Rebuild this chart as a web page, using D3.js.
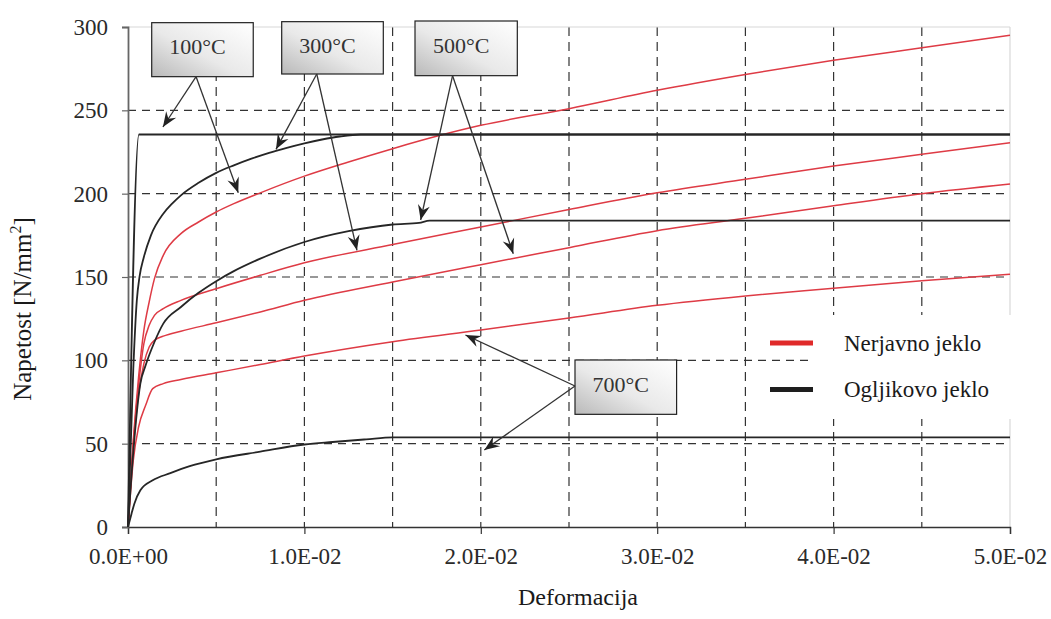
<!DOCTYPE html>
<html>
<head>
<meta charset="utf-8">
<script src="https://cdn.jsdelivr.net/npm/d3@7"></script>
<style>
  html, body { margin: 0; padding: 0; background: #fff; }
  svg { display: block; font-family: "Liberation Serif", "Times New Roman", serif; }
</style>
</head>
<body>
<svg id="chart" width="1051" height="619"></svg>
<script>
// Stress-strain curves: stainless steel (red) vs. carbon steel (black) at four temperatures.
// Each series is a list of [strain, stress (N/mm²)] pairs.

const stainless100 = [[0,0],[0.0003,52],[0.0006,90],[0.0009,118],[0.0012,135],[0.0015,149],[0.002,163],[0.003,176],[0.004,183],[0.005,189],[0.006,194],[0.0075,200.5],[0.01,210.5],[0.0125,219],[0.015,227],[0.0177,235],[0.02,241],[0.025,251],[0.03,262],[0.035,271.5],[0.04,280],[0.045,287.5],[0.05,295]];
const stainless300 = [[0,0],[0.0003,50],[0.0006,85],[0.0009,110],[0.0012,121],[0.0015,127],[0.002,131],[0.003,136],[0.005,143],[0.0075,151],[0.01,158.5],[0.015,169.5],[0.02,180],[0.025,190.5],[0.03,200.5],[0.035,208.6],[0.04,216.6],[0.045,223.6],[0.05,230.6]];
const stainless500 = [[0,0],[0.0003,48],[0.0006,80],[0.0009,98],[0.0012,108],[0.0015,112],[0.002,114.5],[0.003,117.5],[0.005,122.5],[0.0075,129],[0.01,136],[0.015,147],[0.02,157.4],[0.025,167.6],[0.03,177.8],[0.035,185.2],[0.04,192.8],[0.045,200],[0.05,205.8]];
const stainless700 = [[0,0],[0.0003,40],[0.0006,60],[0.001,73],[0.0014,83],[0.002,86],[0.003,88.5],[0.005,92.5],[0.0075,97.5],[0.01,102.6],[0.015,111.2],[0.02,118.2],[0.025,125.4],[0.03,133],[0.035,138.6],[0.04,143.2],[0.045,147.8],[0.05,151.6]];

const carbon100 = [[0,0],[0.00062,235.5],[0.05,235.5]];
const carbon300 = [[0,0],[0.0003,95],[0.0005,136],[0.00065,150],[0.0009,162],[0.0013,175],[0.002,188],[0.0025,194],[0.003,199],[0.004,206.5],[0.005,212.5],[0.006,217],[0.007,221],[0.008,224.5],[0.009,227.5],[0.01,230.2],[0.011,232.5],[0.012,234.3],[0.0132,235.5],[0.05,235.5]];
const carbon500 = [[0,0],[0.0003,45],[0.0007,86],[0.001,97],[0.0015,111],[0.002,122],[0.003,132],[0.004,140.5],[0.005,147.5],[0.006,153.5],[0.0075,161],[0.01,171],[0.0125,177.5],[0.015,181.5],[0.0165,182.5],[0.0171,183.8],[0.05,183.8]];
const carbon700 = [[0,0],[0.0002,8],[0.00036,14],[0.0007,22],[0.0014,28],[0.0024,32.3],[0.0035,36.5],[0.005,40.6],[0.0075,45.2],[0.01,49.5],[0.0116,51],[0.0135,52.6],[0.015,53.8],[0.05,53.8]];

const xTickValues = [0, 0.01, 0.02, 0.03, 0.04, 0.05];
const xTickLabels = ["0.0E+00", "1.0E-02", "2.0E-02", "3.0E-02", "4.0E-02", "5.0E-02"];
const yTickValues = [0, 50, 100, 150, 200, 250, 300];
const xGridValues = [0.005, 0.01, 0.015, 0.02, 0.025, 0.03, 0.035, 0.04, 0.045];
const yGridValues = [50, 100, 150, 200, 250];

const legendLabels = ["Nerjavno jeklo", "Ogljikovo jeklo"];
const temperatureLabels = ["100°C", "300°C", "500°C", "700°C"];

const RED = "#de3b45";
const BLACK = "#262626";

const svg = d3.select("#chart");
const x = d3.scaleLinear().domain([0, 0.05]).range([128, 1010]);
const y = d3.scaleLinear().domain([0, 300]).range([527, 27]);

// defs: box gradient and arrowhead
const defs = svg.append("defs");
const grad = defs.append("linearGradient").attr("id", "boxFill")
  .attr("x1", "0").attr("y1", "1").attr("x2", "1").attr("y2", "0");
grad.append("stop").attr("offset", "0").attr("stop-color", "#b9b9b9");
grad.append("stop").attr("offset", "0.45").attr("stop-color", "#e9e9e9");
grad.append("stop").attr("offset", "1").attr("stop-color", "#ffffff");

defs.append("marker").attr("id", "arrowHead")
  .attr("viewBox", "-16 -7 18 14")
  .attr("refX", 0).attr("refY", 0)
  .attr("markerWidth", 18).attr("markerHeight", 14)
  .attr("markerUnits", "userSpaceOnUse")
  .attr("orient", "auto")
  .append("path")
  .attr("d", "M0,0 L-15,-6 L-10,0 L-15,6 Z")
  .attr("fill", "#222");

// grid
const grid = svg.append("g");
grid.selectAll(".vg").data(xGridValues).join("line")
  .attr("x1", d => x(d)).attr("x2", d => x(d))
  .attr("y1", y(300)).attr("y2", y(0))
  .attr("stroke", "#333").attr("stroke-width", 1.2)
  .attr("stroke-dasharray", "9,6");
grid.selectAll(".hg").data(yGridValues).join("line")
  .attr("x1", x(0)).attr("x2", x(0.05))
  .attr("y1", d => y(d)).attr("y2", d => y(d))
  .attr("stroke", "#333").attr("stroke-width", 1.2)
  .attr("stroke-dasharray", "8,6");

// light frame on top and right
svg.append("line").attr("x1", x(0)).attr("x2", x(0.05)).attr("y1", y(300)).attr("y2", y(300))
  .attr("stroke", "#d8d8d8").attr("stroke-width", 1.2);
svg.append("line").attr("x1", x(0.05)).attr("x2", x(0.05)).attr("y1", y(300)).attr("y2", y(0))
  .attr("stroke", "#d8d8d8").attr("stroke-width", 1.2);

// legend background hides the grid behind the labels
svg.append("rect").attr("x", 812).attr("y", 315).attr("width", 205).attr("height", 104)
  .attr("fill", "#fff");

// axes
const xAxis = svg.append("g").attr("transform", `translate(0,${y(0)})`)
  .call(d3.axisBottom(x).tickValues(xTickValues)
    .tickFormat((d, i) => xTickLabels[i]).tickSize(7).tickPadding(14));
xAxis.attr("font-family", null);
xAxis.select(".domain").attr("stroke", "#333").attr("stroke-width", 1.4);
xAxis.selectAll(".tick line").attr("stroke", "#333").attr("stroke-width", 1.2);
xAxis.selectAll("text").attr("font-size", 23).attr("fill", "#2a2a2a");

const yAxis = svg.append("g").attr("transform", `translate(${x(0)},0)`)
  .call(d3.axisLeft(y).tickValues(yTickValues).tickSize(6).tickPadding(14));
yAxis.attr("font-family", null);
yAxis.select(".domain").attr("stroke", "#666").attr("stroke-width", 1.8);
yAxis.selectAll(".tick line").attr("stroke", "#666").attr("stroke-width", 1.2);
yAxis.selectAll("text").attr("font-size", 23).attr("fill", "#2a2a2a");

// curves
const line = d3.line().x(d => x(d[0])).y(d => y(d[1])).curve(d3.curveMonotoneX);
const series = [
  { data: stainless100, color: RED },
  { data: stainless300, color: RED },
  { data: stainless500, color: RED },
  { data: stainless700, color: RED },
  { data: carbon100, color: BLACK },
  { data: carbon300, color: BLACK },
  { data: carbon500, color: BLACK },
  { data: carbon700, color: BLACK }
];
svg.append("g").selectAll("path").data(series).join("path")
  .attr("d", d => line(d.data))
  .attr("fill", "none")
  .attr("stroke", d => d.color)
  .attr("stroke-width", d => d.color === RED ? 1.5 : 1.8)
  .attr("stroke-linejoin", "round");

// legend
const legend = svg.append("g");
const legendColors = ["#e02a2a", "#1e1e1e"];
legendLabels.forEach((label, i) => {
  const ly = 343 + i * 46.5;
  legend.append("line").attr("x1", 770).attr("x2", 813).attr("y1", ly).attr("y2", ly)
    .attr("stroke", legendColors[i]).attr("stroke-width", 5);
  legend.append("text").attr("x", 844).attr("y", ly).attr("dy", "0.33em")
    .attr("font-size", 23).attr("fill", "#1a1a1a").text(label);
});

// temperature callouts: box in data space, arrows from an origin to the curves
const callouts = [
  { label: temperatureLabels[0], box: [0.001344, 302.6, 0.0071, 270.2], from: [0.00386, 270.2],
    to: [[0.00198, 240], [0.00625, 200.6]] },
  { label: temperatureLabels[1], box: [0.008713, 303.2, 0.014473, 271.8], from: [0.01070, 271.8],
    to: [[0.00839, 226.6], [0.01298, 166]] },
  { label: temperatureLabels[2], box: [0.01627, 303.6, 0.02207, 270.8], from: [0.01840, 270.8],
    to: [[0.01659, 184.2], [0.02184, 164]] },
  { label: temperatureLabels[3], box: [0.02534, 100.2, 0.0311, 67.6], from: [0.02534, 84.6],
    to: [[0.01913, 115.2], [0.0202, 46.2]] }
];
const cg = svg.append("g");
callouts.forEach(c => {
  const [bx0, by0, bx1, by1] = c.box;
  cg.append("rect")
    .attr("x", x(bx0)).attr("y", y(by0))
    .attr("width", x(bx1) - x(bx0)).attr("height", y(by1) - y(by0))
    .attr("fill", "url(#boxFill)").attr("stroke", "#222").attr("stroke-width", 1.2);
  cg.append("text")
    .attr("x", (x(bx0) + x(bx1)) / 2 - 5).attr("y", (y(by0) + y(by1)) / 2 - 3)
    .attr("dy", "0.35em").attr("text-anchor", "middle")
    .attr("font-size", 22).attr("fill", "#333").text(c.label);
  c.to.forEach(t => {
    cg.append("line")
      .attr("x1", x(c.from[0])).attr("y1", y(c.from[1]))
      .attr("x2", x(t[0])).attr("y2", y(t[1]))
      .attr("stroke", "#333").attr("stroke-width", 1.3)
      .attr("marker-end", "url(#arrowHead)");
  });
});

// axis titles
svg.append("text").attr("x", 578).attr("y", 605).attr("text-anchor", "middle")
  .attr("font-size", 24).attr("fill", "#1a1a1a").text("Deformacija");

const yt = svg.append("text").attr("transform", "translate(31,309) rotate(-90)")
  .attr("text-anchor", "middle").attr("font-size", 25).attr("fill", "#1a1a1a");
yt.append("tspan").text("Napetost [N/mm");
yt.append("tspan").attr("font-size", 16).attr("dy", -10).text("2");
yt.append("tspan").attr("dy", 10).text("]");
</script>
</body>
</html>
